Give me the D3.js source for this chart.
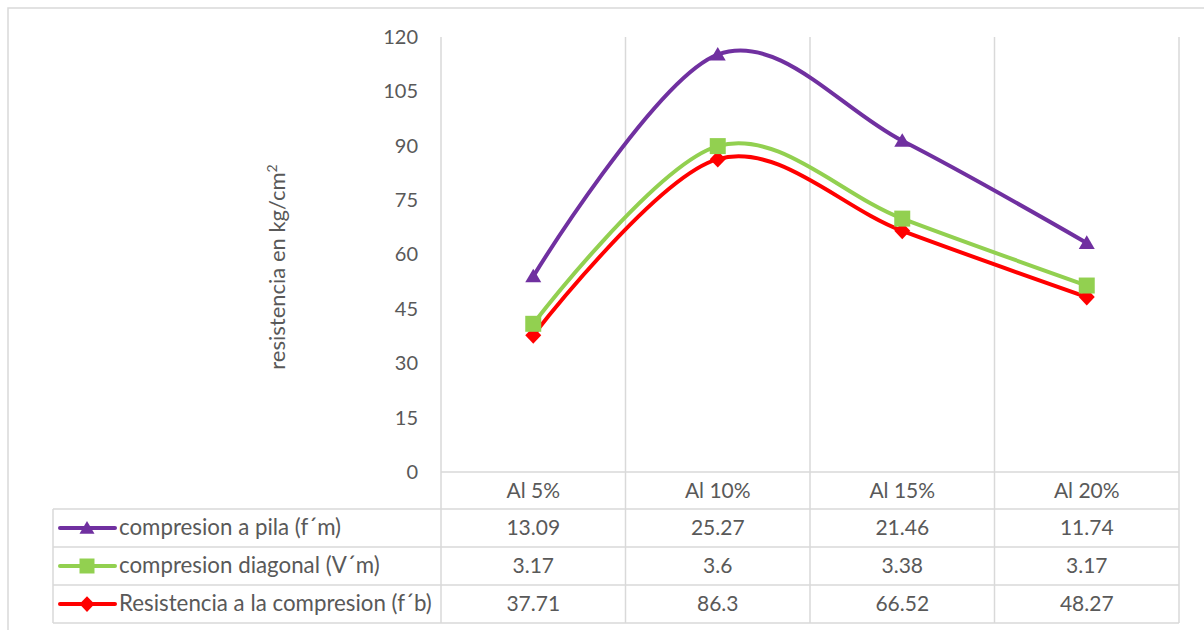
<!DOCTYPE html>
<html>
<head>
<meta charset="utf-8">
<script src="https://cdn.jsdelivr.net/npm/d3@7"></script>
<style>
  html, body { margin: 0; padding: 0; background: #fff; }
  svg { display: block; }
  text { font-family: Lato, "Open Sans", sans-serif; fill: #595959; }
</style>
</head>
<body>
<svg id="chart" width="1204" height="630"></svg>
<script>
// ---- data ----
const categories = ["Al 5%", "Al 10%", "Al 15%", "Al 20%"];
const seriesNames = ["compresion a pila (f´m)", "compresion diagonal (V´m)", "Resistencia a la compresion (f´b)"];
const pila = [13.09, 25.27, 21.46, 11.74];
const diagonal = [3.17, 3.6, 3.38, 3.17];
const resistencia = [37.71, 86.3, 66.52, 48.27];
const tableLabels = [["13.09", "25.27", "21.46", "11.74"], ["3.17", "3.6", "3.38", "3.17"], ["37.71", "86.3", "66.52", "48.27"]];
const yTicks = [0, 15, 30, 45, 60, 75, 90, 105, 120];
const colors = ["#7030A0", "#92D050", "#FF0000"];
const markers = ["triangle", "square", "diamond"];

// ---- layout ----
const svg = d3.select("#chart");
const plotL = 441, plotR = 1179, plotT = 37, plotB = 472;
const rowH = 38, headerB = 509, tableL = 53;
const grid = "#d9d9d9";

// outer border
svg.append("rect").attr("x", 8).attr("y", 8).attr("width", 1300).attr("height", 700)
  .attr("fill", "none").attr("stroke", grid).attr("stroke-width", 1.5);

const x = d3.scaleBand().domain(categories).range([plotL, plotR]).padding(0);
const y = d3.scaleLinear().domain([0, 120]).range([plotB, plotT]);

// stacked values (Excel stacked line)
const rows = categories.map((c, i) => ({ cat: c, pila: pila[i], diagonal: diagonal[i], resistencia: resistencia[i] }));
const stack = d3.stack().keys(["resistencia", "diagonal", "pila"]);
const stacked = stack(rows); // [resistencia, diagonal, pila]
const stackByName = { pila: stacked[2], diagonal: stacked[1], resistencia: stacked[0] };
const seriesKeys = ["pila", "diagonal", "resistencia"];

// vertical gridlines (category boundaries), extending through header row
const bounds = categories.map(c => x(c)).concat([plotR]);
svg.append("g").selectAll("line").data(bounds).join("line")
  .attr("x1", d => d).attr("x2", d => d).attr("y1", plotT).attr("y2", headerB + 3 * rowH)
  .attr("stroke", grid).attr("stroke-width", 1.5);

// horizontal table lines
const hLines = [plotB, headerB, headerB + rowH, headerB + 2 * rowH, headerB + 3 * rowH];
svg.append("g").selectAll("line").data(hLines).join("line")
  .attr("x1", (d, i) => i <= 0 ? plotL : tableL).attr("x2", plotR)
  .attr("y1", d => d).attr("y2", d => d)
  .attr("stroke", grid).attr("stroke-width", 1.5);
svg.append("line").attr("x1", tableL).attr("x2", tableL).attr("y1", headerB).attr("y2", headerB + 3 * rowH)
  .attr("stroke", grid).attr("stroke-width", 1.5);

// y axis labels
const yAxis = d3.axisLeft(y).tickValues(yTicks).tickSize(0).tickPadding(0);
const gy = svg.append("g").attr("transform", `translate(418,0)`).call(yAxis);
gy.select(".domain").remove();
gy.selectAll("text").attr("font-size", 20).attr("fill", "#595959").style("font-family", "Lato, sans-serif");

// y axis title
const yt = svg.append("text").attr("transform", "translate(285,267) rotate(-90)")
  .attr("text-anchor", "middle").attr("font-size", 22);
yt.append("tspan").text("resistencia en kg/cm");
yt.append("tspan").attr("dy", -8).attr("font-size", 14).text("2");

// header categories
svg.append("g").selectAll("text").data(categories).join("text")
  .attr("x", d => x(d) + x.bandwidth() / 2).attr("y", (plotB + headerB) / 2 + 7)
  .attr("text-anchor", "middle").attr("font-size", 21).text(d => d);

// table values
tableLabels.forEach((row, r) => {
  svg.append("g").selectAll("text").data(row).join("text")
    .attr("x", (d, i) => x(categories[i]) + x.bandwidth() / 2)
    .attr("y", headerB + r * rowH + rowH / 2 + 7)
    .attr("text-anchor", "middle").attr("font-size", 21).text(d => d);
});

// marker path generator
function markerPath(type, cx, cy, s) {
  if (type === "triangle") return `M${cx},${cy - s * 0.95}L${cx + s},${cy + s * 0.75}L${cx - s},${cy + s * 0.75}Z`;
  if (type === "square") return `M${cx - s},${cy - s}h${2 * s}v${2 * s}h${-2 * s}Z`;
  return `M${cx},${cy - s * 1.05}L${cx + s},${cy}L${cx},${cy + s * 1.05}L${cx - s},${cy}Z`;
}

// legend keys in table
seriesNames.forEach((name, i) => {
  const cy = headerB + i * rowH + rowH / 2;
  const g = svg.append("g");
  g.append("line").attr("x1", 60).attr("x2", 115).attr("y1", cy).attr("y2", cy)
    .attr("stroke", colors[i]).attr("stroke-width", 4).attr("stroke-linecap", "round");
  g.append("path").attr("d", markerPath(markers[i], 87, cy, 7.5)).attr("fill", colors[i]);
  g.append("text").attr("x", 119).attr("y", cy + 7).attr("font-size", 22.3).text(name);
});

// lines (draw bottom series first so upper series are on top)
const line = d3.line()
  .x(d => x(d.data.cat) + x.bandwidth() / 2)
  .y(d => y(d[1]))
  .curve(d3.curveCardinal.tension(0));

const drawOrder = ["resistencia", "diagonal", "pila"];
drawOrder.forEach(key => {
  const i = seriesKeys.indexOf(key);
  const data = stackByName[key];
  const g = svg.append("g");
  g.append("path").datum(data).attr("d", line).attr("fill", "none")
    .attr("stroke", colors[i]).attr("stroke-width", 4).attr("stroke-linejoin", "round");
  g.selectAll("path.m").data(data).join("path").attr("class", "m")
    .attr("d", d => markerPath(markers[i], x(d.data.cat) + x.bandwidth() / 2, y(d[1]), 8))
    .attr("fill", colors[i]);
});
</script>
</body>
</html>
